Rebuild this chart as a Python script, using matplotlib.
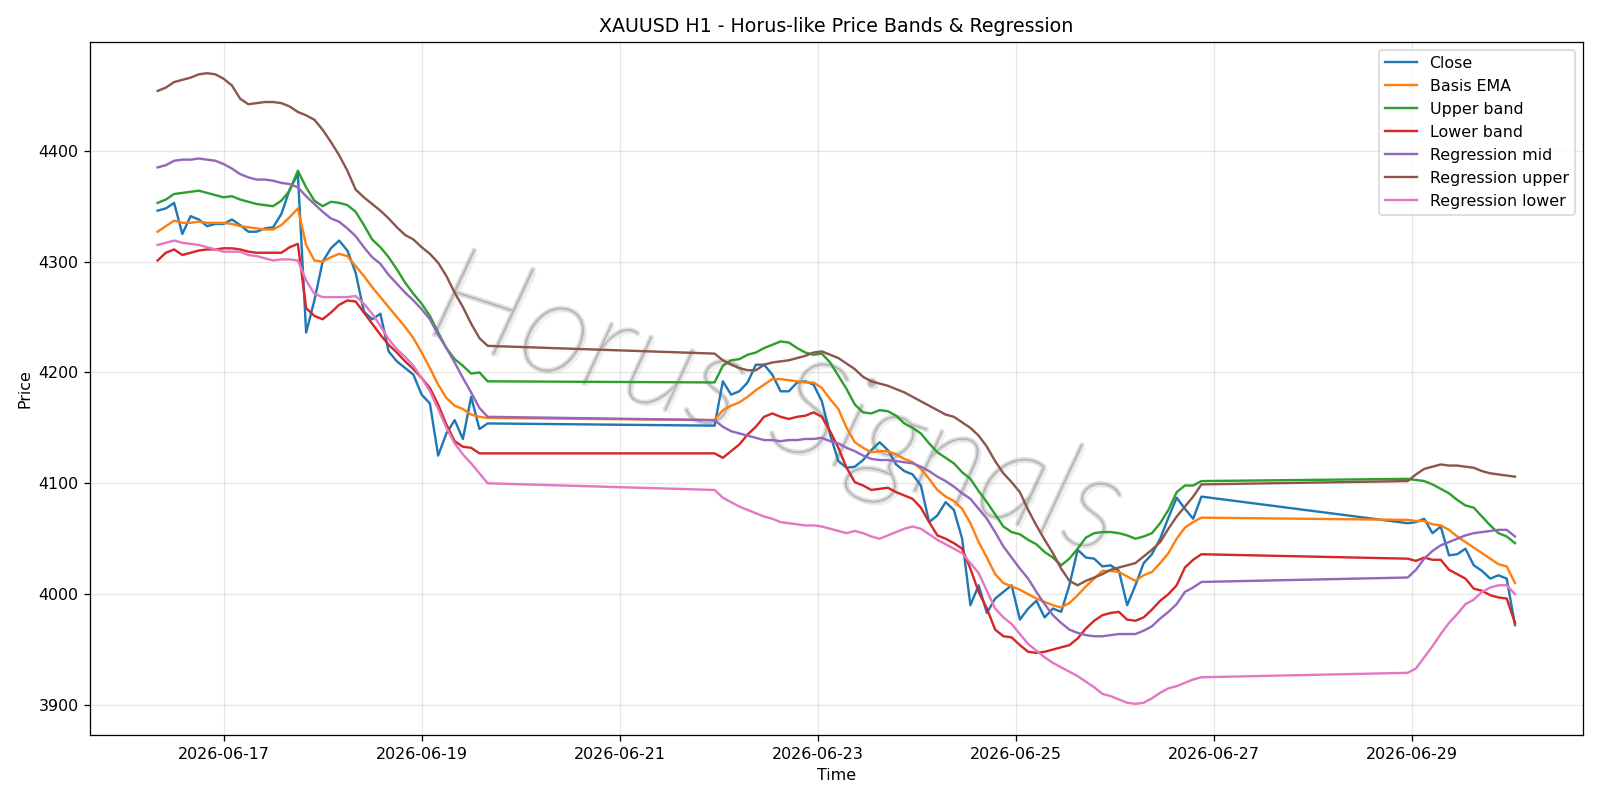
import matplotlib
matplotlib.use("Agg")
import matplotlib.pyplot as plt
import matplotlib.dates as mdates
import matplotlib.patheffects as pe
import numpy as np
import pandas as pd

# hourly bars, read every 2 hours; hours counted from 2026-06-16 08:00
start = pd.Timestamp("2026-06-16 08:00")
hours = np.concatenate([np.arange(0, 81, 2), np.arange(135, 254, 2), np.arange(303, 330, 2)])

close = [4346, 4348, 4353, 4325, 4341, 4338, 4332, 4334, 4334, 4338, 4333, 4327, 4327, 4330, 4331, 4343, 4365, 4379, 4236, 4265,
         4300, 4312, 4319, 4310, 4290, 4255, 4248, 4253, 4219, 4210, 4204, 4198, 4180, 4172, 4125, 4145, 4157, 4140, 4178, 4149, 4154,
         4152, 4192, 4180, 4183, 4191, 4207, 4207, 4198, 4183, 4183, 4191, 4192, 4189, 4174, 4144, 4120, 4114, 4115, 4121, 4130,
         4137, 4130, 4117, 4111, 4108, 4098, 4065, 4071, 4083, 4076, 4050, 3990, 4008, 3983, 3996, 4002, 4008, 3977, 3987, 3994,
         3979, 3987, 3984, 4008, 4040, 4033, 4032, 4025, 4026, 4021, 3990, 4008, 4028, 4036, 4050, 4069, 4087, 4077, 4068, 4088,
         4064, 4065, 4068, 4055, 4061, 4035, 4036, 4041, 4026, 4021, 4014, 4017, 4014, 3972]
basis = [4327, 4332, 4337, 4335, 4335, 4336, 4335, 4335, 4335, 4334, 4332, 4331, 4330, 4329, 4329, 4333, 4340, 4348, 4315, 4301,
         4300, 4304, 4307, 4305, 4296, 4287, 4277, 4268, 4259, 4250, 4241, 4231, 4218, 4204, 4189, 4177, 4170, 4167, 4162, 4160, 4159,
         4157, 4166, 4170, 4173, 4178, 4184, 4189, 4194, 4194, 4193, 4192, 4191, 4191, 4186, 4176, 4167, 4150, 4137, 4132, 4128,
         4129, 4129, 4126, 4122, 4119, 4113, 4104, 4094, 4088, 4084, 4077, 4064, 4047, 4033, 4018, 4010, 4007, 4004, 4000, 3996,
         3993, 3990, 3988, 3992, 3999, 4007, 4014, 4021, 4021, 4020, 4016, 4012, 4017, 4020, 4028, 4037, 4050, 4060, 4065, 4069,
         4067, 4066, 4066, 4063, 4062, 4058, 4052, 4047, 4042, 4037, 4032, 4027, 4025, 4010]
upper = [4353, 4356, 4361, 4362, 4363, 4364, 4362, 4360, 4358, 4359, 4356, 4354, 4352, 4351, 4350, 4355, 4364, 4382, 4367, 4355,
         4350, 4354, 4353, 4351, 4345, 4333, 4320, 4313, 4304, 4293, 4281, 4271, 4262, 4251, 4236, 4222, 4212, 4206, 4199, 4200, 4192,
         4191, 4206, 4211, 4212, 4216, 4218, 4222, 4225, 4228, 4227, 4222, 4218, 4216, 4217, 4209, 4197, 4185, 4171, 4164, 4163,
         4166, 4165, 4161, 4154, 4150, 4145, 4136, 4128, 4123, 4118, 4110, 4104, 4093, 4083, 4072, 4061, 4056, 4054, 4049, 4045,
         4038, 4033, 4026, 4032, 4041, 4051, 4055, 4056, 4056, 4055, 4053, 4050, 4052, 4055, 4064, 4076, 4092, 4098, 4098, 4102,
         4104, 4103, 4102, 4099, 4095, 4091, 4085, 4080, 4078, 4070, 4062, 4055, 4052, 4046]
lower = [4301, 4308, 4311, 4306, 4308, 4310, 4311, 4311, 4312, 4312, 4311, 4309, 4308, 4308, 4308, 4308, 4313, 4316, 4258, 4251,
         4248, 4254, 4261, 4265, 4264, 4254, 4244, 4234, 4225, 4218, 4210, 4203, 4195, 4186, 4171, 4153, 4138, 4133, 4132, 4127, 4127,
         4127, 4123, 4129, 4135, 4144, 4151, 4160, 4163, 4160, 4158, 4160, 4161, 4164, 4160, 4147, 4132, 4114, 4101, 4098, 4094,
         4095, 4096, 4092, 4089, 4086, 4078, 4065, 4053, 4050, 4046, 4041, 4023, 4002, 3987, 3968, 3962, 3961, 3954, 3948, 3947,
         3948, 3950, 3952, 3954, 3960, 3969, 3976, 3981, 3983, 3984, 3977, 3976, 3979, 3986, 3994, 4000, 4008, 4024, 4031, 4036,
         4032, 4030, 4033, 4031, 4031, 4022, 4018, 4014, 4005, 4003, 3999, 3997, 3996, 3974]
reg_mid = [4385, 4387, 4391, 4392, 4392, 4393, 4392, 4391, 4388, 4384, 4379, 4376, 4374, 4374, 4373, 4371, 4370, 4367, 4359, 4352,
           4345, 4339, 4336, 4330, 4323, 4313, 4304, 4298, 4288, 4280, 4272, 4265, 4257, 4248, 4234, 4222, 4209, 4195, 4182, 4168, 4160,
           4157, 4151, 4147, 4145, 4143, 4141, 4139, 4139, 4138, 4139, 4139, 4140, 4140, 4141, 4138, 4136, 4132, 4129, 4125, 4122,
           4121, 4121, 4120, 4119, 4118, 4115, 4111, 4106, 4102, 4097, 4091, 4086, 4077, 4068, 4056, 4043, 4033, 4023, 4014, 4002,
           3991, 3981, 3974, 3968, 3965, 3963, 3962, 3962, 3963, 3964, 3964, 3964, 3967, 3971, 3978, 3984, 3991, 4002, 4006, 4011,
           4015, 4022, 4032, 4039, 4044, 4047, 4050, 4053, 4055, 4056, 4057, 4058, 4058, 4052]
reg_upper = [4454, 4457, 4462, 4464, 4466, 4469, 4470, 4469, 4465, 4459, 4447, 4442, 4443, 4444, 4444, 4443, 4440, 4435, 4432, 4428,
             4419, 4408, 4396, 4382, 4365, 4358, 4352, 4346, 4339, 4331, 4324, 4320, 4313, 4307, 4299, 4287, 4272, 4259, 4244, 4231, 4224,
             4217, 4211, 4207, 4204, 4202, 4202, 4207, 4209, 4210, 4211, 4213, 4215, 4218, 4219, 4216, 4213, 4208, 4203, 4196, 4192,
             4190, 4188, 4185, 4182, 4178, 4174, 4170, 4166, 4162, 4160, 4155, 4150, 4143, 4133, 4120, 4109, 4101, 4092, 4076, 4062,
             4049, 4037, 4023, 4012, 4008, 4012, 4015, 4018, 4022, 4024, 4026, 4028, 4034, 4040, 4047, 4059, 4070, 4079, 4088, 4099,
             4102, 4108, 4113, 4115, 4117, 4116, 4116, 4115, 4114, 4111, 4109, 4108, 4107, 4106]
reg_lower = [4315, 4317, 4319, 4317, 4316, 4315, 4313, 4311, 4309, 4309, 4309, 4306, 4305, 4303, 4301, 4302, 4302, 4301, 4283, 4271,
             4268, 4268, 4268, 4268, 4269, 4262, 4253, 4242, 4230, 4221, 4214, 4206, 4195, 4183, 4167, 4150, 4136, 4126, 4118, 4109, 4100,
             4094, 4087, 4083, 4079, 4076, 4073, 4070, 4068, 4065, 4064, 4063, 4062, 4062, 4061, 4059, 4057, 4055, 4057, 4055, 4052,
             4050, 4053, 4056, 4059, 4061, 4059, 4054, 4049, 4045, 4041, 4037, 4028, 4019, 4003, 3987, 3979, 3973, 3964, 3955, 3949,
             3943, 3938, 3934, 3930, 3926, 3921, 3916, 3910, 3908, 3905, 3902, 3901, 3902, 3906, 3911, 3915, 3917, 3920, 3923, 3925,
             3929, 3933, 3943, 3953, 3964, 3974, 3982, 3991, 3995, 4002, 4006, 4008, 4008, 4000]

t = start + pd.to_timedelta(hours, unit="h")

fig, ax = plt.subplots(figsize=(14, 7), dpi=1600 / 14)
ax.plot(t, close, label="Close")
ax.plot(t, basis, label="Basis EMA")
ax.plot(t, upper, label="Upper band")
ax.plot(t, lower, label="Lower band")
ax.plot(t, reg_mid, label="Regression mid")
ax.plot(t, reg_upper, label="Regression upper")
ax.plot(t, reg_lower, label="Regression lower")

# watermark
ax.text(0.46, 0.47, "Horus Signals", transform=ax.transAxes, fontsize=84,
        family=["Lato", "DejaVu Sans"], weight="light", style="italic",
        color="#b4b4b4", alpha=0.8, rotation=-18,
        ha="center", va="center", zorder=0,
        path_effects=[pe.withStroke(linewidth=2.5, foreground="#c8c8c8", alpha=0.6),
                      pe.withSimplePatchShadow(offset=(2, -2), shadow_rgbFace="#dddddd", alpha=0.5)])

ax.xaxis.set_major_locator(mdates.DayLocator(bymonthday=[17, 19, 21, 23, 25, 27, 29]))
ax.xaxis.set_major_formatter(mdates.DateFormatter("%Y-%m-%d"))
ax.grid(True, alpha=0.3)
ax.set_title("XAUUSD H1 - Horus-like Price Bands & Regression")
ax.set_xlabel("Time")
ax.set_ylabel("Price")
ax.legend(loc="upper right")
fig.tight_layout()
fig.savefig("out.png")
